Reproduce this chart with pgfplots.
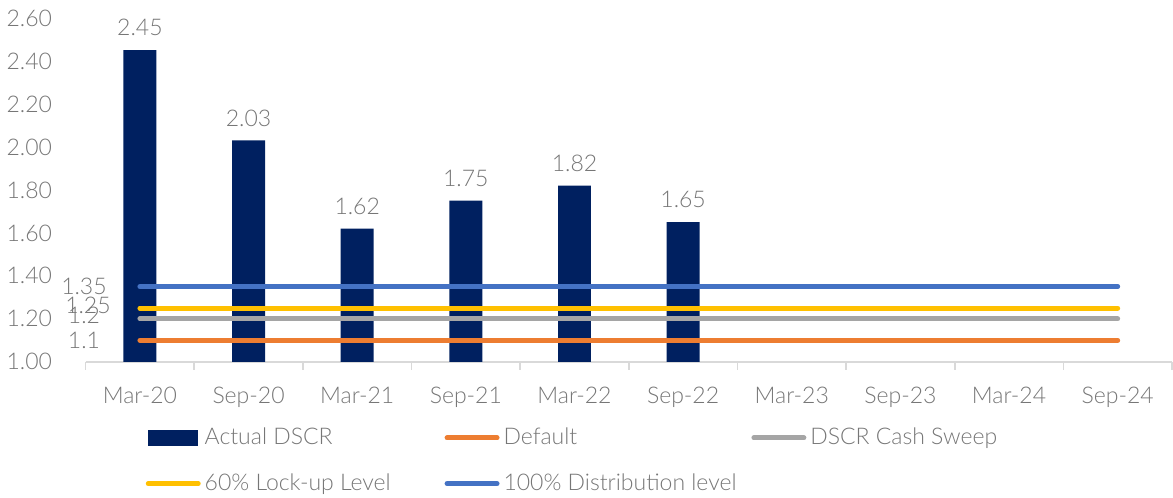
\documentclass[border=0pt]{standalone}
\usepackage{pgfplots}
\pgfplotsset{compat=1.18}
\usepackage{fontspec}
\setmainfont{Lato Light}
\definecolor{navy}{RGB}{0,32,96}
\definecolor{cOrange}{RGB}{237,125,49}
\definecolor{cGray}{RGB}{165,165,165}
\definecolor{cGold}{RGB}{255,192,0}
\definecolor{cBlue}{RGB}{68,114,196}
\definecolor{textgray}{RGB}{118,118,118}
\definecolor{axisgray}{RGB}{217,217,217}
\begin{document}
\begin{tikzpicture}
\begin{axis}[
  scale only axis,
  clip=false,
  width=543.5pt, height=172pt,
  xmin=-0.5, xmax=9.5,
  ymin=1, ymax=2.6,
  font=\fontsize{11.5}{13}\selectfont,
  /pgf/number format/assume math mode=true,
  axis x line*=bottom, axis y line*=left,
  y axis line style={draw=none},
  x axis line style={axisgray, line width=0.8pt},
  ytick={1,1.2,...,2.61},
  yticklabel style={xshift=-9pt, /pgf/number format/.cd, fixed, fixed zerofill, precision=2},
  ytick style={draw=none},
  xtick={0,...,9},
  xticklabels={Mar-20,Sep-20,Mar-21,Sep-21,Mar-22,Sep-22,Mar-23,Sep-23,Mar-24,Sep-24},
  major x tick style={draw=none},
  minor xtick={-0.5,0.5,...,9.6},
  minor x tick style={axisgray, line width=0.8pt},
  minor tick length=4pt,
  tick align=outside,
  ticklabel style={text=textgray},
  xticklabel style={yshift=-5pt},
  legend columns=3,
  legend style={at={(axis description cs:0.055,-0.18)}, anchor=north west,
    draw=none, fill=none, inner sep=0pt, text=textgray,
    /tikz/every even column/.append style={column sep=0pt},
    row sep=9pt, font=\fontsize{11.5}{13}\selectfont},
  legend cell align=left,
]
\addplot[ybar, bar width=16.5pt, fill=navy, draw=none,
  nodes near coords={\pgfmathprintnumber[fixed,fixed zerofill,precision=2]{\pgfplotspointmeta}},
  every node near coord/.append style={text=textgray, yshift=3.5pt},
  legend image code/.code={\fill[navy] (0pt,-4pt) rectangle (25pt,4pt);}]
  coordinates {(0,2.45) (1,2.03) (2,1.62) (3,1.75) (4,1.82) (5,1.65)};
\addlegendentry{\makebox[118pt][l]{Actual DSCR}}
\addplot[cOrange, line width=2.5pt, line cap=round,
  legend image code/.code={\draw[cOrange,line width=2.5pt,line cap=round] (0pt,0pt) -- (25pt,0pt);}]
  coordinates {(0,1.1) (9,1.1)} node[pos=0, xshift=-28pt, text=textgray] {1.1};
\addlegendentry{\makebox[122pt][l]{Default}}
\addplot[cGray, line width=2.5pt, line cap=round,
  legend image code/.code={\draw[cGray,line width=2.5pt,line cap=round] (0pt,0pt) -- (25pt,0pt);}]
  coordinates {(0,1.2) (9,1.2)} node[pos=0, xshift=-28pt, yshift=1.5pt, text=textgray] {1.2};
\addlegendentry{DSCR Cash Sweep}
\addplot[cGold, line width=2.5pt, line cap=round,
  legend image code/.code={\draw[cGold,line width=2.5pt,line cap=round] (0pt,0pt) -- (25pt,0pt);}]
  coordinates {(0,1.25) (9,1.25)} node[pos=0, xshift=-26pt, yshift=1.5pt, text=textgray] {1.25};
\addlegendentry{\makebox[118pt][l]{60\% Lock-up Level}}
\addplot[cBlue, line width=2.5pt, line cap=round,
  legend image code/.code={\draw[cBlue,line width=2.5pt,line cap=round] (0pt,0pt) -- (25pt,0pt);}]
  coordinates {(0,1.35) (9,1.35)} node[pos=0, xshift=-28pt, text=textgray] {1.35};
\addlegendentry{\makebox[122pt][l]{100\% Distribution level}}
\end{axis}
\path (current axis.south west) ++(-42.5pt,-68pt);
\path (current axis.north east) ++(0.5pt,9pt);
\end{tikzpicture}
\end{document}
